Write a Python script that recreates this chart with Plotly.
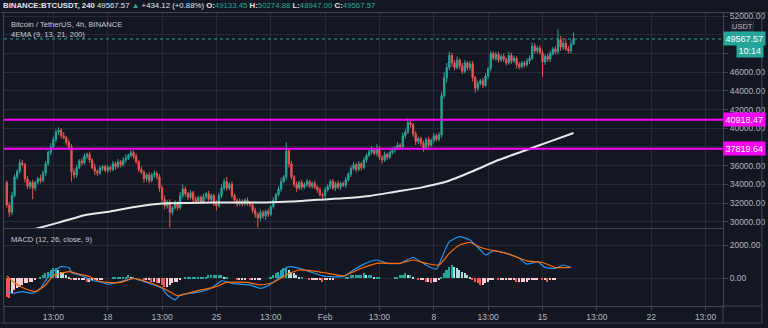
import plotly.graph_objects as go
import pandas as pd

# ---------------- data ----------------
# 4h closes, thousands of USDT, first candle 2021-01-11 12:00
closes = [
    31.8, 31.0, 32.8, 34.8, 35.4, 36.3, 36.1, 34.6, 33.8, 34.2,
    33.6, 34.2, 34.6, 34.4, 35.2, 36.2, 37.4, 38.0, 38.8, 39.6,
    39.8, 39.2, 39.0, 38.5, 38.0, 35.3, 35.0, 35.8, 36.5, 36.3,
    37.0, 37.2, 36.6, 35.8, 35.4, 35.2, 35.7, 35.9, 35.5, 35.8,
    35.6, 36.2, 35.9, 36.4, 36.1, 36.6, 36.8, 37.1, 37.4, 37.0,
    36.4, 35.6, 35.3, 34.6, 35.0, 34.4, 35.0, 35.2, 34.8, 33.6,
    32.4, 31.7, 32.1, 31.0, 31.5, 32.0, 31.5, 32.8, 33.5, 33.0,
    32.6, 33.1, 32.4, 32.2, 32.6, 32.1, 32.7, 33.0, 32.4, 32.8,
    32.0, 31.7, 32.8, 33.6, 34.3, 33.6, 34.0, 32.8, 32.3, 31.9,
    32.2, 31.9, 32.3, 32.0, 31.8, 31.2, 30.8, 30.4, 31.0, 30.6,
    31.1, 30.8, 31.6, 32.3, 32.9, 33.5, 34.3, 34.8, 37.6, 36.2,
    34.8, 34.0, 33.6, 34.2, 33.7, 34.0, 34.3, 33.8, 34.1, 33.7,
    33.4, 32.9, 32.8, 33.4, 33.8, 34.3, 33.6, 34.1, 33.7, 34.1,
    33.9, 34.5, 35.1, 35.7, 36.1, 35.6, 36.2, 35.8, 36.6, 37.1,
    37.5, 37.7, 37.3, 37.8, 36.9, 36.6, 37.2, 36.9, 37.4, 37.7,
    37.9, 38.2, 38.0, 39.2, 39.6, 40.6, 40.4, 39.4, 38.6, 38.9,
    38.4, 37.9, 38.8, 38.2, 38.7, 39.2, 38.8, 39.3, 43.5, 45.4,
    46.5, 47.8, 47.0, 46.5, 47.3, 46.7, 46.1, 47.0, 46.5, 46.9,
    45.4, 44.3, 44.8, 45.1, 44.6, 45.6, 46.4, 48.0, 47.5, 47.9,
    47.3, 47.7, 47.4, 47.0, 47.8, 47.2, 47.5, 46.8, 46.6, 47.0,
    46.8, 47.2, 47.5, 48.8, 48.3, 48.6, 48.1, 47.1, 47.7, 47.4,
    48.0, 48.5, 48.2, 49.5, 48.7, 49.1, 48.5, 48.3, 49.0, 49.56757,
]
first_open = 34.2
# wick lengths above / below the body, hundreds of USDT
wick_up = [
    2, 3, 4, 3, 2, 4, 3, 2, 3, 2,   3, 2, 2, 4, 3, 3, 2, 4, 3, 3,
    3, 2, 4, 2, 3, 3, 4, 3, 2, 3,   3, 2, 3, 2, 4, 2, 3, 2, 2, 3,
    2, 3, 2, 3, 2, 3, 4, 2, 3, 2,   3, 2, 3, 2, 2, 3, 2, 3, 2, 3,
    3, 4, 2, 3, 2, 3, 2, 4, 5, 3,   2, 3, 2, 3, 2, 2, 3, 2, 3, 2,
    2, 3, 3, 4, 3, 5, 2, 3, 2, 2,   3, 2, 2, 3, 2, 2, 3, 2, 3, 2,
    2, 3, 2, 3, 2, 3, 4, 2, 9, 3,   3, 2, 3, 2, 3, 2, 3, 2, 2, 3,
    2, 3, 2, 3, 2, 2, 3, 2, 3, 2,   2, 3, 2, 3, 3, 2, 3, 2, 3, 2,
    3, 4, 2, 5, 3, 2, 3, 2, 2, 3,   2, 3, 2, 3, 3, 5, 3, 2, 3, 2,
    2, 3, 2, 3, 2, 3, 2, 3, 4, 6,   5, 4, 3, 3, 4, 2, 3, 3, 2, 3,
    3, 2, 3, 2, 3, 3, 2, 3, 2, 3,   3, 2, 3, 2, 4, 3, 3, 2, 3, 2,
    2, 3, 3, 4, 3, 2, 3, 3, 2, 3,   3, 2, 3, 11, 4, 3, 5, 3, 4, 7,
]
wick_dn = [
    3, 5, 3, 2, 3, 3, 2, 4, 3, 3,   12, 3, 2, 3, 2, 3, 2, 3, 2, 3,
    3, 3, 2, 3, 3, 10, 4, 3, 2, 3,  2, 3, 3, 2, 4, 3, 2, 3, 2, 3,
    3, 2, 3, 2, 3, 2, 3, 2, 2, 3,   2, 3, 2, 4, 3, 3, 2, 3, 3, 4,
    3, 4, 3, 16, 3, 2, 3, 2, 3, 3,  3, 2, 3, 2, 3, 2, 2, 3, 2, 3,
    3, 5, 2, 3, 2, 3, 2, 3, 4, 3,   2, 3, 2, 3, 2, 3, 4, 10, 3, 3,
    4, 3, 2, 2, 3, 2, 3, 2, 3, 4,   3, 3, 4, 2, 3, 2, 3, 2, 3, 2,
    3, 2, 4, 3, 2, 3, 2, 3, 2, 3,   2, 3, 2, 3, 2, 3, 2, 3, 2, 3,
    2, 3, 2, 3, 3, 4, 2, 3, 2, 2,   3, 2, 3, 2, 3, 2, 3, 3, 4, 3,
    3, 4, 2, 3, 2, 3, 2, 2, 3, 3,   5, 3, 4, 3, 2, 4, 3, 2, 3, 3,
    4, 5, 3, 2, 3, 2, 3, 3, 2, 3,   3, 2, 3, 3, 2, 3, 2, 4, 3, 2,
    3, 2, 3, 2, 3, 3, 2, 16, 3, 3,  3, 2, 3, 3, 4, 3, 2, 3, 3, 1,
]
# EMA 200 (thousands) at candle indices
ema_idx = [8, 20, 30, 40, 50, 60, 70, 80, 90, 100, 110, 120, 130, 140,
           150, 160, 165, 170, 180, 190, 200, 210, 219]
ema_val = [29.0, 29.9, 30.7, 31.1, 31.6, 31.95, 32.0, 32.05, 32.05, 32.05,
           32.15, 32.35, 32.5, 32.75, 33.2, 33.65, 33.95, 34.3, 35.4, 36.6,
           37.6, 38.6, 39.5]
# MACD line and signal line at candle indices
macd_idx = [0, 2, 6, 10, 13, 17, 21, 24, 25, 29, 33, 37, 39, 44, 49, 53, 57,
            60, 62, 65, 67, 71, 75, 79, 83, 87, 90, 94, 98, 101, 105, 108,
            110, 113, 118, 122, 126, 130, 134, 138, 143, 147, 152, 157, 162,
            166, 168, 171, 175, 179, 183, 185, 188, 193, 198, 201, 205, 208,
            212, 215, 218]
macd_val = [-730, -900, -800, -900, -600, 300, 700, 650, 350, 150, -130, -250,
            -350, -200, 0, -200, -400, -600, -1000, -1300, -1000, -900, -800,
            -600, -150, -300, -350, -400, -600, -450, 0, 650, 700, 600, 350,
            150, 100, 100, 500, 850, 1100, 900, 900, 1250, 800, 550, 1200,
            2200, 2500, 2300, 1700, 1400, 1650, 1500, 1200, 850, 1000, 650,
            600, 800, 650]
sig_idx = [0, 2, 6, 11, 15, 18, 24, 28, 32, 35, 39, 44, 49, 55, 60, 66, 70,
           75, 80, 85, 93, 98, 103, 108, 113, 118, 124, 130, 137, 143, 152,
           157, 162, 167, 171, 175, 179, 183, 187, 193, 201, 207, 212, 218]
sig_val = [150, -150, -550, -800, -400, 150, 400, 250, 100, -150, -250, -250,
           0, -250, -550, -1050, -900, -700, -550, -250, -250, -400, -250, 200,
           500, 450, 300, 150, 600, 900, 900, 1100, 900, 800, 1500, 2000,
           2150, 1850, 1700, 1500, 1050, 950, 650, 650]
# MACD histogram, hundreds, one per candle
hist = [
    -11, -12, -9, -7, -6, -5, -4, -3, -3, -2,   -2, -1, 0, 1, 2, 3, 4, 5, 6, 6,
    5, 4, 3, 2, 1, -1, -1, -1, -1, -1,          -1, -2, -2, -1, -1, -1, -1, -1, 0, 0,
    0, 1, 1, 1, 1, 1, 1, 2, 1, 1,               0, 0, 0, -1, -1, -1, -2, -2, -3, -3,
    -4, -5, -5, -4, -3, -2, -2, -1, 0, 1,       1, 1, 1, 1, 1, 1, 1, 1, 2, 2,
    2, 2, 2, 2, 1, 1, 0, 0, 0, -1,              -1, -1, -1, 0, -1, -1, -1, -1, -1, 0,
    0, 0, 1, 2, 3, 4, 5, 6, 6, 5,               4, 3, 2, 1, 1, 0, 0, -1, -1, -1,
    -1, -1, -2, -1, -1, -1, -1, 0, 0, 0,        0, 1, 1, 2, 2, 2, 2, 2, 3, 2,
    2, 2, 1, 1, 1, 0, 0, 0, 0, 0,               1, 1, 2, 2, 3, 2, 2, 1, 0, -1,
    -1, -1, -2, -2, -3, -2, -2, -1, 1, 3,       5, 7, 8, 7, 6, 5, 4, 3, 2, 1,
    -1, -2, -3, -4, -4, -3, -2, -1, -1, 0,      -1, -1, -1, -1, -1, -1, -1, -2, -2, -2,
    -2, -2, -1, -1, -1, -1, 0, -1, -1, -2,      -1, -1, -1, 0, 0, 0, 0, 0, 0, 0,
]
levels = [40918.47, 37819.64]
last_price = 49567.57
price_ticks = [30000, 32000, 34000, 36000, 38000, 40000, 42000, 44000, 46000, 48000, 50000, 52000]
# labels hidden behind the price boxes in the reference are left blank
price_ticktext = ["30000.00", "32000.00", "34000.00", "36000.00", "", "40000.00",
                  "42000.00", "44000.00", "46000.00", "", "", "52000.00"]
time_tickvals = ["2021-01-14 12:00", "2021-01-18", "2021-01-21 12:00", "2021-01-25",
                 "2021-01-28 12:00", "2021-02-01", "2021-02-04 12:00", "2021-02-08",
                 "2021-02-11 12:00", "2021-02-15", "2021-02-18 12:00", "2021-02-22",
                 "2021-02-25 12:00"]
time_ticktext = ["13:00", "18", "13:00", "25", "13:00", "Feb", "13:00", "8",
                 "13:00", "15", "13:00", "22", "13:00"]

# ---------------- build ----------------
times = pd.date_range("2021-01-11 12:00", periods=len(closes), freq="4h")
c = [v * 1000 for v in closes]
o = [first_open * 1000] + c[:-1]
h = [max(a, b) + u * 100 for a, b, u in zip(o, c, wick_up)]
l = [min(a, b) - d * 100 for a, b, d in zip(o, c, wick_dn)]

BG = "#131722"
GRID = "#262a35"
AX = "#434651"
TXT = "#b2b5be"
UP = "#26a69a"
DN = "#ef5350"
FONT = "Liberation Sans, Arial, sans-serif"

hv = [v * 100 for v in hist]
hcol = []
for i, v in enumerate(hv):
    p = hv[i - 1] if i > 0 else 0
    if v >= 0:
        hcol.append("#26a69a" if v >= p else "#b2dfdb")
    else:
        hcol.append("#ff5252" if v < p else "#ffcdd2")

fig = go.Figure()
fig.add_trace(go.Candlestick(
    x=times, open=o, high=h, low=l, close=c,
    increasing=dict(line=dict(color=UP, width=1), fillcolor=UP),
    decreasing=dict(line=dict(color=DN, width=1), fillcolor=DN),
    whiskerwidth=0, xaxis="x", yaxis="y", hoverinfo="skip"))
fig.add_trace(go.Scatter(
    x=[times[i] for i in ema_idx], y=[v * 1000 for v in ema_val],
    mode="lines", line=dict(color="#e8e8e8", width=2, shape="spline", smoothing=0.6),
    xaxis="x", yaxis="y", hoverinfo="skip"))
fig.add_trace(go.Bar(
    x=times, y=hv, marker=dict(color=hcol, line=dict(width=0)),
    width=4 * 3600 * 1000 * 0.6, xaxis="x2", yaxis="y2", hoverinfo="skip"))
fig.add_trace(go.Scatter(
    x=[times[i] for i in macd_idx], y=macd_val, mode="lines",
    line=dict(color="#2196f3", width=1.2, shape="spline", smoothing=0.5),
    xaxis="x2", yaxis="y2", hoverinfo="skip"))
fig.add_trace(go.Scatter(
    x=[times[i] for i in sig_idx], y=sig_val, mode="lines",
    line=dict(color="#ff6d00", width=1.2, shape="spline", smoothing=0.5),
    xaxis="x2", yaxis="y2", hoverinfo="skip"))

L, R, T, B = 3, 44, 13, 22
W, H = 768, 328
PW, PH = W - L - R, H - T - B


def py(ypix):
    return (H - B - ypix) / PH


def pxx(xpix):
    return (xpix - L) / PW


xr = ["2021-01-11 07:42", "2021-02-26 15:00"]
main_bottom = py(228)
macd_top = py(229)

common_x = dict(type="date", range=xr, tickvals=time_tickvals, ticktext=time_ticktext,
                showgrid=True, gridcolor=GRID, gridwidth=1, zeroline=False,
                showline=True, linecolor=AX, mirror=True, fixedrange=True)

fig.update_layout(
    width=W, height=H, margin=dict(l=L, r=R, t=T, b=B),
    paper_bgcolor=BG, plot_bgcolor=BG, showlegend=False,
    font=dict(family=FONT, color=TXT, size=8),
    xaxis=dict(**common_x, domain=[0, 1], anchor="y", showticklabels=False,
               rangeslider=dict(visible=False)),
    yaxis=dict(domain=[main_bottom, 1], side="right", range=[29325, 52345],
               tickvals=price_ticks, ticktext=price_ticktext, ticks="outside", ticklen=4,
               tickcolor=AX, showgrid=True, gridcolor=GRID, zeroline=False,
               showline=True, linecolor=AX, mirror=True, anchor="x",
               tickfont=dict(size=8.5, color=TXT)),
    xaxis2=dict(**common_x, domain=[0, 1], anchor="y2", ticks="outside", ticklen=3,
                tickcolor=AX, tickfont=dict(size=8.5, color=TXT)),
    yaxis2=dict(domain=[0, macd_top], side="right", range=[-1664, 2961],
                tickvals=[0, 2000], tickformat=".2f", ticks="outside", ticklen=4,
                tickcolor=AX, showgrid=True, gridcolor=GRID, zeroline=False,
                showline=True, linecolor=AX, mirror=True, anchor="x2",
                tickfont=dict(size=8.5, color=TXT)),
    bargap=0,
)

shapes = []
for lv in levels:
    shapes.append(dict(type="line", xref="paper", yref="y", x0=0, x1=1, y0=lv, y1=lv,
                       line=dict(color="#ff00ff", width=2)))
shapes.append(dict(type="line", xref="paper", yref="y", x0=0, x1=1, y0=last_price,
                   y1=last_price, line=dict(color=UP, width=1, dash="dot")))
# outer frame of the time scale / price scale
shapes.append(dict(type="line", xref="paper", yref="paper", x0=pxx(0), x1=pxx(763),
                   y0=py(323), y1=py(323), line=dict(color=AX, width=1)))
shapes.append(dict(type="line", xref="paper", yref="paper", x0=pxx(0), x1=pxx(768),
                   y0=py(12.5), y1=py(12.5), line=dict(color=AX, width=1)))
shapes.append(dict(type="line", xref="paper", yref="paper", x0=1, x1=1,
                   y0=py(323), y1=py(306), line=dict(color=AX, width=1)))
shapes.append(dict(type="line", xref="paper", yref="paper", x0=pxx(763), x1=pxx(763),
                   y0=py(323), y1=py(12.5), line=dict(color=AX, width=1)))
shapes.append(dict(type="line", xref="paper", yref="paper", x0=1, x1=pxx(763),
                   y0=py(306), y1=py(306), line=dict(color=AX, width=1)))
shapes.append(dict(type="line", xref="paper", yref="paper", x0=pxx(3), x1=pxx(3),
                   y0=py(323), y1=py(306), line=dict(color=AX, width=1)))
fig.update_layout(shapes=shapes)

ann = []
header = ("<b>BINANCE:BTCUSDT, 240</b> 49567.57 "
          "<span style='color:#26a69a'>▲</span> +434.12 (+0.88%) "
          "<b>O:</b><span style='color:#26a69a'>49133.45</span> "
          "<b>H:</b><span style='color:#26a69a'>50274.88</span> "
          "<b>L:</b><span style='color:#26a69a'>48947.00</span> "
          "<b>C:</b><span style='color:#26a69a'>49567.57</span>")
ann.append(dict(text=header, xref="paper", yref="paper", x=pxx(0), y=py(5.5),
                xanchor="left", yanchor="middle", showarrow=False,
                font=dict(size=7.8, color="#e0e3eb", family=FONT)))
ann.append(dict(text="Bitcoin / TetherUS, 4h, BINANCE", xref="paper", yref="paper",
                x=pxx(8), y=py(24), xanchor="left", yanchor="middle", showarrow=False,
                font=dict(size=7.6, color="#c8cbd3", family=FONT)))
ann.append(dict(text="4EMA (9, 13, 21, 200)", xref="paper", yref="paper",
                x=pxx(8), y=py(34.5), xanchor="left", yanchor="middle", showarrow=False,
                font=dict(size=7.6, color="#c8cbd3", family=FONT)))
ann.append(dict(text="MACD (12, 26, close, 9)", xref="paper", yref="paper",
                x=pxx(8), y=py(239.5), xanchor="left", yanchor="middle", showarrow=False,
                font=dict(size=7.6, color="#c8cbd3", family=FONT)))
ann.append(dict(text="USDT", xref="paper", yref="paper", x=pxx(744), y=py(26),
                xanchor="center", yanchor="middle", showarrow=False,
                bgcolor="#1e222d", bordercolor="#2a2e39", borderwidth=1, borderpad=0,
                font=dict(size=7.5, color=TXT, family=FONT)))
ann.append(dict(text="49567.57", xref="paper", yref="y", x=1, y=last_price,
                xanchor="left", yanchor="middle", showarrow=False, bgcolor=UP,
                borderpad=1.5, font=dict(size=9, color="#ffffff", family=FONT)))
ann.append(dict(text="10:14", xref="paper", yref="paper", x=pxx(751), y=py(50.5),
                xanchor="center", yanchor="middle", showarrow=False, bgcolor=UP,
                borderpad=1.5, font=dict(size=9, color="#ffffff", family=FONT)))
for lv in levels:
    ann.append(dict(text=f"{lv:.2f}", xref="paper", yref="y", x=1, y=lv,
                    xanchor="left", yanchor="middle", showarrow=False,
                    bgcolor="#ff00ff", borderpad=1.5,
                    font=dict(size=9, color="#ffffff", family=FONT)))
fig.update_layout(annotations=ann)

fig.write_html("out.html", config={"displayModeBar": False})
